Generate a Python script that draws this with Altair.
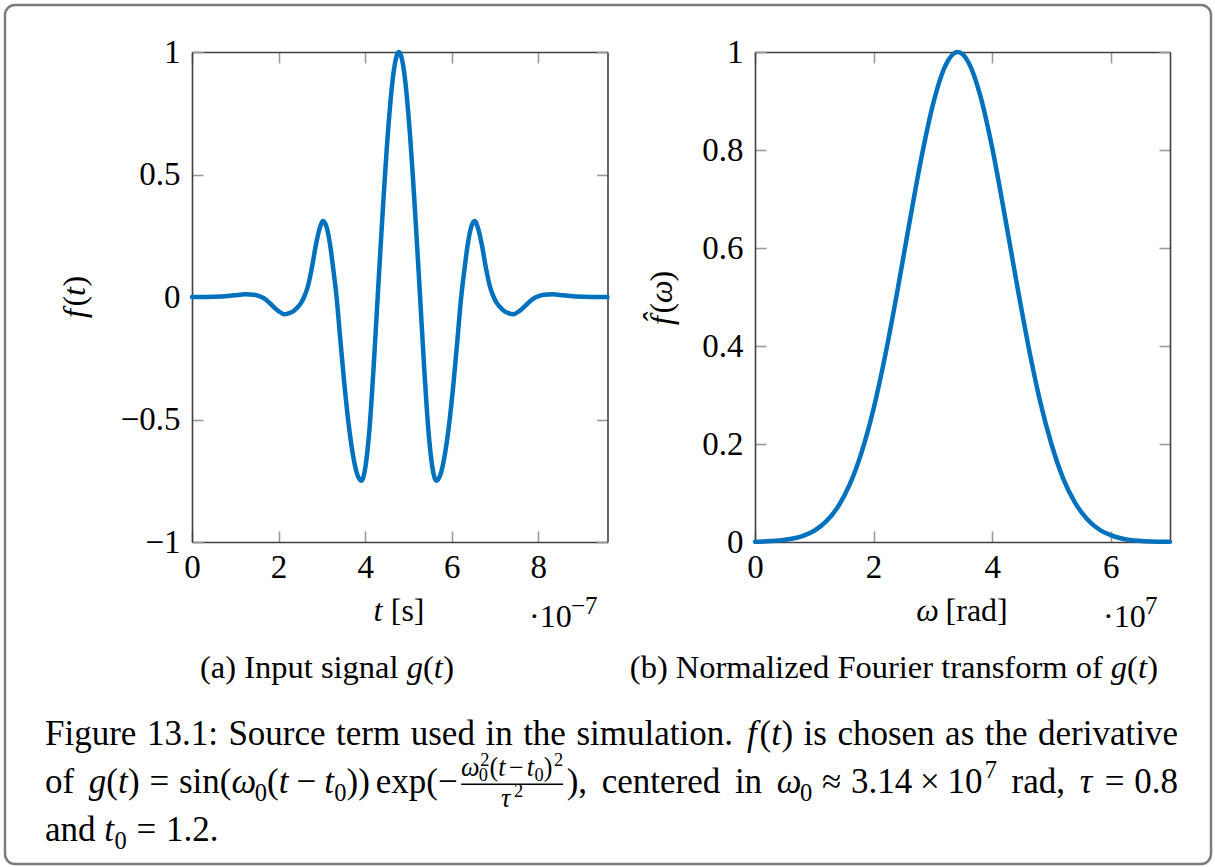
import altair as alt
import pandas as pd

# ---------------------------------------------------------------- data
# Input signal f(t); t in units of 1e-7 s
t_axis = [0.0, 0.33, 0.68, 0.98, 1.23, 1.43, 1.55, 1.65, 1.75, 1.86,
          2.00, 2.135, 2.25, 2.35, 2.45, 2.52, 2.59, 2.68, 2.77, 2.86,
          2.95, 3.03, 3.11, 3.185, 3.26, 3.34, 3.43, 3.52, 3.62, 3.72,
          3.82, 3.915, 4.01, 4.10, 4.195, 4.29, 4.41, 4.535, 4.66, 4.78,
          4.90, 5.025, 5.15, 5.27, 5.365, 5.46, 5.55, 5.645, 5.74, 5.84,
          5.94, 6.04, 6.13, 6.22, 6.30, 6.375, 6.45, 6.53, 6.61, 6.70,
          6.79, 6.88, 6.97, 7.04, 7.11, 7.21, 7.31, 7.425, 7.56, 7.70,
          7.81, 7.91, 8.01, 8.13, 8.33, 8.58, 8.88, 9.23, 9.60]
f_signal = [0.0, 0.0, 0.002, 0.007, 0.011, 0.009, 0.004, -0.004, -0.017, -0.036,
            -0.058, -0.07, -0.066, -0.057, -0.04, -0.024, 0.0, 0.045, 0.12, 0.21,
            0.28, 0.31, 0.285, 0.22, 0.12, 0.0, -0.18, -0.355, -0.52, -0.645,
            -0.725, -0.75, -0.69, -0.54, -0.29, 0.0, 0.36, 0.69, 0.92, 1.0,
            0.92, 0.69, 0.36, 0.0, -0.29, -0.54, -0.69, -0.75, -0.725, -0.645,
            -0.52, -0.355, -0.18, 0.0, 0.12, 0.22, 0.285, 0.31, 0.28, 0.21,
            0.12, 0.045, 0.0, -0.024, -0.04, -0.057, -0.066, -0.07, -0.058, -0.036,
            -0.017, -0.004, 0.004, 0.009, 0.011, 0.007, 0.002, 0.0, 0.0]

# Normalized Fourier transform; omega in units of 1e7 rad
omega = [0.0, 0.4, 0.8, 1.0, 1.2, 1.4, 1.6, 1.8, 2.0, 2.2, 2.4, 2.6, 2.8, 3.0,
         3.2, 3.42, 3.6, 3.8, 4.0, 4.2, 4.4, 4.6, 4.8, 5.0, 5.2, 5.4, 5.6, 5.8,
         6.0, 6.4, 6.8, 7.0]
f_hat = [0.0005, 0.003, 0.012, 0.023, 0.042, 0.072, 0.118, 0.184, 0.272, 0.383,
         0.511, 0.648, 0.780, 0.892, 0.969, 1.0, 0.979, 0.911, 0.805, 0.675,
         0.538, 0.407, 0.292, 0.200, 0.129, 0.080, 0.047, 0.026, 0.014, 0.003,
         0.0006, 0.0003]

t_ticks = [0, 2, 4, 6, 8]
f_ticks = [-1, -0.5, 0, 0.5, 1]
w_ticks = [0, 2, 4, 6]
fh_ticks = [0, 0.2, 0.4, 0.6, 0.8, 1]

# ---------------------------------------------------------------- style
W, H = 1215, 867
SERIF = "Liberation Serif, 'Times New Roman', 'DejaVu Serif', serif"
BLUE = "#0072bd"
FRAME = "#404040"
TICK = "#9a9a9a"

signal_df = pd.DataFrame({"t": t_axis, "f": f_signal})
spec_df = pd.DataFrame({"w": omega, "F": f_hat})
one = pd.DataFrame({"k": [0]})


def panel(df, xf, yf, xdom, ydom, xr, yr, xticks, yticks):
    """Boxed pgfplots-style panel: labelled axes plus an inward-ticked frame."""
    xs = alt.Scale(domain=xdom, range=xr, nice=False, zero=False)
    ys = alt.Scale(domain=ydom, range=yr, nice=False, zero=False)
    lab = dict(labelFont=SERIF, labelFontSize=33, labelColor="black",
               labelFlush=False, labelOverlap=False, labelBound=False,
               labelAngle=0, format="~g", grid=False, title=None,
               ticks=False, tickSize=0, domain=False)
    frame = dict(labels=False, grid=False, title=None, domain=True,
                 domainColor=FRAME, domainWidth=1.6, ticks=True,
                 tickColor=TICK, tickWidth=1.6, tickSize=11)
    base = alt.Chart(df)
    # bottom and left edges, ticks pointing into the box
    edge1 = base.mark_line(strokeOpacity=0).encode(
        x=alt.X(f"{xf}:Q", scale=xs,
                axis=alt.Axis(orient="top", offset=-yr[0], values=xticks, **frame)),
        y=alt.Y(f"{yf}:Q", scale=ys,
                axis=alt.Axis(orient="right", offset=xr[0] - W, values=yticks, **frame)),
    )
    # top and right edges
    edge2 = base.mark_line(strokeOpacity=0).encode(
        x=alt.X(f"{xf}:Q", scale=xs,
                axis=alt.Axis(orient="bottom", offset=yr[1] - H, values=xticks, **frame)),
        y=alt.Y(f"{yf}:Q", scale=ys,
                axis=alt.Axis(orient="left", offset=-xr[1], values=yticks, **frame)),
    )
    curve = base.mark_line(color=BLUE, strokeWidth=4.5, interpolate="monotone",
                           strokeCap="round", strokeJoin="round", clip=False).encode(
        x=alt.X(f"{xf}:Q", scale=xs,
                axis=alt.Axis(orient="bottom", offset=yr[0] - H, values=xticks,
                              labelPadding=9, **lab)),
        y=alt.Y(f"{yf}:Q", scale=ys,
                axis=alt.Axis(orient="left", offset=-xr[0], values=yticks,
                              labelPadding=12, **lab)),
    )
    return [edge1, edge2, curve]


left = panel(signal_df, "t", "f", [0, 9.6], [-1, 1], [192, 607.5], [542, 52],
             t_ticks, f_ticks)
right = panel(spec_df, "w", "F", [0, 7], [0, 1], [755, 1170], [542, 52],
              w_ticks, fh_ticks)

# ---------------------------------------------------------------- text layout
ROMAN = {" ": 250, "(": 333, ")": 333, ",": 250, ".": 250, ":": 278,
         "=": 564, "−": 564, "×": 564, "≈": 549, "·": 250, "[": 333, "]": 333,
         "a": 444, "b": 500, "c": 444, "d": 500, "e": 444, "f": 333, "g": 500,
         "h": 500, "i": 278, "l": 278, "m": 778, "n": 500, "o": 500, "p": 500,
         "r": 333, "s": 389, "t": 278, "u": 500, "v": 500, "x": 500, "z": 444,
         "F": 556, "I": 333, "N": 722, "S": 556}
for _d in "0123456789":
    ROMAN[_d] = 500
ITALIC = {"f": 360, "g": 500, "t": 290, "ω": 667, "τ": 440, "\u0302": 0}
SCRIPT, SUB_DY, SUP_DY, SUP_GAP = 0.7, 0.22, -0.42, 0.06
FRAC_SCALE, NUM_DY, DEN_DY, BAR_DY = 0.75, -0.5, 0.41, -0.25

rows, bars = [], []


def text_w(s, italic, size):
    tab = ITALIC if italic else ROMAN
    return sum(tab.get(c, ROMAN.get(c, 500)) for c in s) * size / 1000


def measure(tokens, size):
    w, n = 0.0, 0
    for tk in tokens:
        k = tk[0]
        if k in ("r", "i"):
            w += text_w(tk[1], k == "i", size)
        elif k == "sub":
            w += text_w(tk[1], False, size * SCRIPT)
        elif k == "sup":
            w += text_w(tk[1], False, size * tk[2]) + SUP_GAP * size
        elif k == "subsup":
            w += max(text_w(tk[1], False, size * SCRIPT),
                     text_w(tk[2], False, size * SCRIPT) + SUP_GAP * size)
        elif k == "sp":
            w += 0.25 * size
            n += 1
        elif k == "gap":
            w += tk[1] * size
        elif k == "frac":
            fs = size * FRAC_SCALE
            w += max(measure(tk[1], fs)[0], measure(tk[2], fs)[0]) + 0.2 * size
    return w, n


def place(tokens, x, y, size, sp, out, sup_dy=SUP_DY):
    for tk in tokens:
        k = tk[0]
        if k in ("r", "i"):
            out.append(dict(s=tk[1], x=x, y=y, size=size, it=(k == "i")))
            x += text_w(tk[1], k == "i", size)
        elif k == "sub":
            fs = size * SCRIPT
            out.append(dict(s=tk[1], x=x, y=y + SUB_DY * size, size=fs, it=False))
            x += text_w(tk[1], False, fs)
        elif k == "sup":
            fs = size * tk[2]
            x += SUP_GAP * size
            out.append(dict(s=tk[1], x=x, y=y + sup_dy * size, size=fs, it=False))
            x += text_w(tk[1], False, fs)
        elif k == "subsup":
            fs = size * SCRIPT
            out.append(dict(s=tk[1], x=x, y=y + SUB_DY * size, size=fs, it=False))
            out.append(dict(s=tk[2], x=x + SUP_GAP * size, y=y + sup_dy * size,
                            size=fs, it=False))
            x += max(text_w(tk[1], False, fs), text_w(tk[2], False, fs) + SUP_GAP * size)
        elif k == "sp":
            x += sp
        elif k == "gap":
            x += tk[1] * size
        elif k == "frac":
            fs = size * FRAC_SCALE
            nw = measure(tk[1], fs)[0]
            dw = measure(tk[2], fs)[0]
            inner, pad = max(nw, dw), 0.1 * size
            place(tk[1], x + pad + (inner - nw) / 2, y + NUM_DY * size, fs,
                  0.25 * fs, out, sup_dy=-0.38)
            place(tk[2], x + pad + (inner - dw) / 2, y + DEN_DY * size, fs,
                  0.25 * fs, out, sup_dy=-0.38)
            bars.append(dict(x=x + pad, x2=x + pad + inner, y=y + BAR_DY * size))
            x += inner + 2 * pad
    return x


def line(tokens, x, y, size, right=None, center=None):
    w, n = measure(tokens, size)
    sp = 0.25 * size
    if right is not None and n:
        sp += (right - x - w) / n
    if center is not None:
        x = center - w / 2
    out = []
    place(tokens, x, y, size, sp, out)
    for r in out:
        r["ang"] = 0
    rows.extend(out)


def vline(tokens, bx, cy, size):
    """Text running bottom-to-top, centred on cy, baseline at bx."""
    w, _ = measure(tokens, size)
    out = []
    place(tokens, 0, 0, size, 0.25 * size, out)
    for r in out:
        r["x"], r["y"] = bx + r["y"], cy + w / 2 - r["x"]
        r["ang"] = 270
    rows.extend(out)


def R(s):
    return ("r", s)


def I(s):
    return ("i", s)


def SUP(s, scale=SCRIPT):
    return ("sup", s, scale)


SP = ("sp",)
REL = ("gap", 0.2778)
BIN = ("gap", 0.2222)
THIN = ("gap", 0.1667)


def words(s):
    out = []
    for k, wd in enumerate(s.split(" ")):
        if k:
            out.append(SP)
        out.append(R(wd))
    return out


g_of_t = [I("g"), R("("), I("t"), R(")")]

# axis titles and scale factors
line([I("t"), SP, R("[s]")], 0, 621, 32, center=399)
line([R("·10"), SUP("−7", 0.78)], 529, 627, 32)
line([I("ω"), SP, R("[rad]")], 0, 621, 32, center=962)
line([R("·10"), SUP("7", 0.78)], 1103, 627, 32)
vline([I("f"), R("("), I("t"), R(")")], 85, 297, 32)
vline([I("f\u0302"), R("("), I("ω"), R(")")], 672, 298, 32)

# sub-captions
line(words("(a) Input signal") + [SP] + g_of_t, 0, 678, 32.5, center=327)
line(words("(b) Normalized Fourier transform of") + [SP] + g_of_t, 0, 678, 32.5, center=894)

# figure caption
CAP = 35
line(words("Figure 13.1: Source term used in the simulation.")
     + [("gap", 0.1), SP, I("f"), R("("), I("t"), R(")"), SP]
     + words("is chosen as the derivative"), 45, 745, CAP, right=1178)

frac = ("frac",
        [I("ω"), ("subsup", "0", "2"), R("("), I("t"), ("gap", 0.12), R("−"),
         ("gap", 0.12), I("t"), ("sub", "0"), R(")"), SUP("2")],
        [I("τ"), SUP("2")])
line([R("of"), SP] + g_of_t
     + [REL, R("="), REL, R("sin"), R("("), I("ω"), ("sub", "0"), R("("), I("t"),
        BIN, R("−"), BIN, I("t"), ("sub", "0"), R("))"), THIN, R("exp"), R("("),
        R("−"), frac, R("),"), SP]
     + words("centered in")
     + [SP, I("ω"), ("sub", "0"), REL, R("≈"), REL, R("3.14"), BIN, R("×"), BIN,
        R("10"), SUP("7"), SP, R("rad,"), SP, I("τ"), REL, R("="), REL, R("0.8")],
     45, 793, CAP, right=1178)
line([R("and"), SP, I("t"), ("sub", "0"), REL, R("="), REL, R("1.2.")], 45, 841, CAP)

text_df = pd.DataFrame(rows)
bar_df = pd.DataFrame(bars)


def text_layer(df, style):
    return alt.Chart(df).mark_text(
        align="left", baseline="alphabetic", font=SERIF, fontStyle=style, color="black"
    ).encode(
        x=alt.X("x:Q", scale=None, axis=None),
        y=alt.Y("y:Q", scale=None, axis=None),
        size=alt.Size("size:Q", scale=None, legend=None),
        angle=alt.Angle("ang:Q", scale=None),
        text="s:N",
    )


roman_text = text_layer(text_df[~text_df["it"]], "normal")
italic_text = text_layer(text_df[text_df["it"]], "italic")

frac_bars = alt.Chart(bar_df).mark_rule(color="black", strokeWidth=1.3).encode(
    x=alt.X("x:Q", scale=None, axis=None),
    x2="x2:Q",
    y=alt.Y("y:Q", scale=None, axis=None),
)

# rounded outer box
box = alt.Chart(one).mark_rect(
    fillOpacity=0, stroke="#7c7c7c", strokeWidth=2.5, cornerRadius=10
).encode(x=alt.value(5), x2=alt.value(1211), y=alt.value(5), y2=alt.value(864))

chart = (
    alt.layer(box, *left, *right, frac_bars, roman_text, italic_text)
    .resolve_scale(x="independent", y="independent")
    .resolve_axis(x="independent", y="independent")
    .properties(width=W, height=H, padding=0, background="white",
                autosize=alt.AutoSizeParams(type="none"))
    .configure_view(stroke=None)
)

chart.save("out.html", embed_options={"renderer": "svg", "actions": False})
